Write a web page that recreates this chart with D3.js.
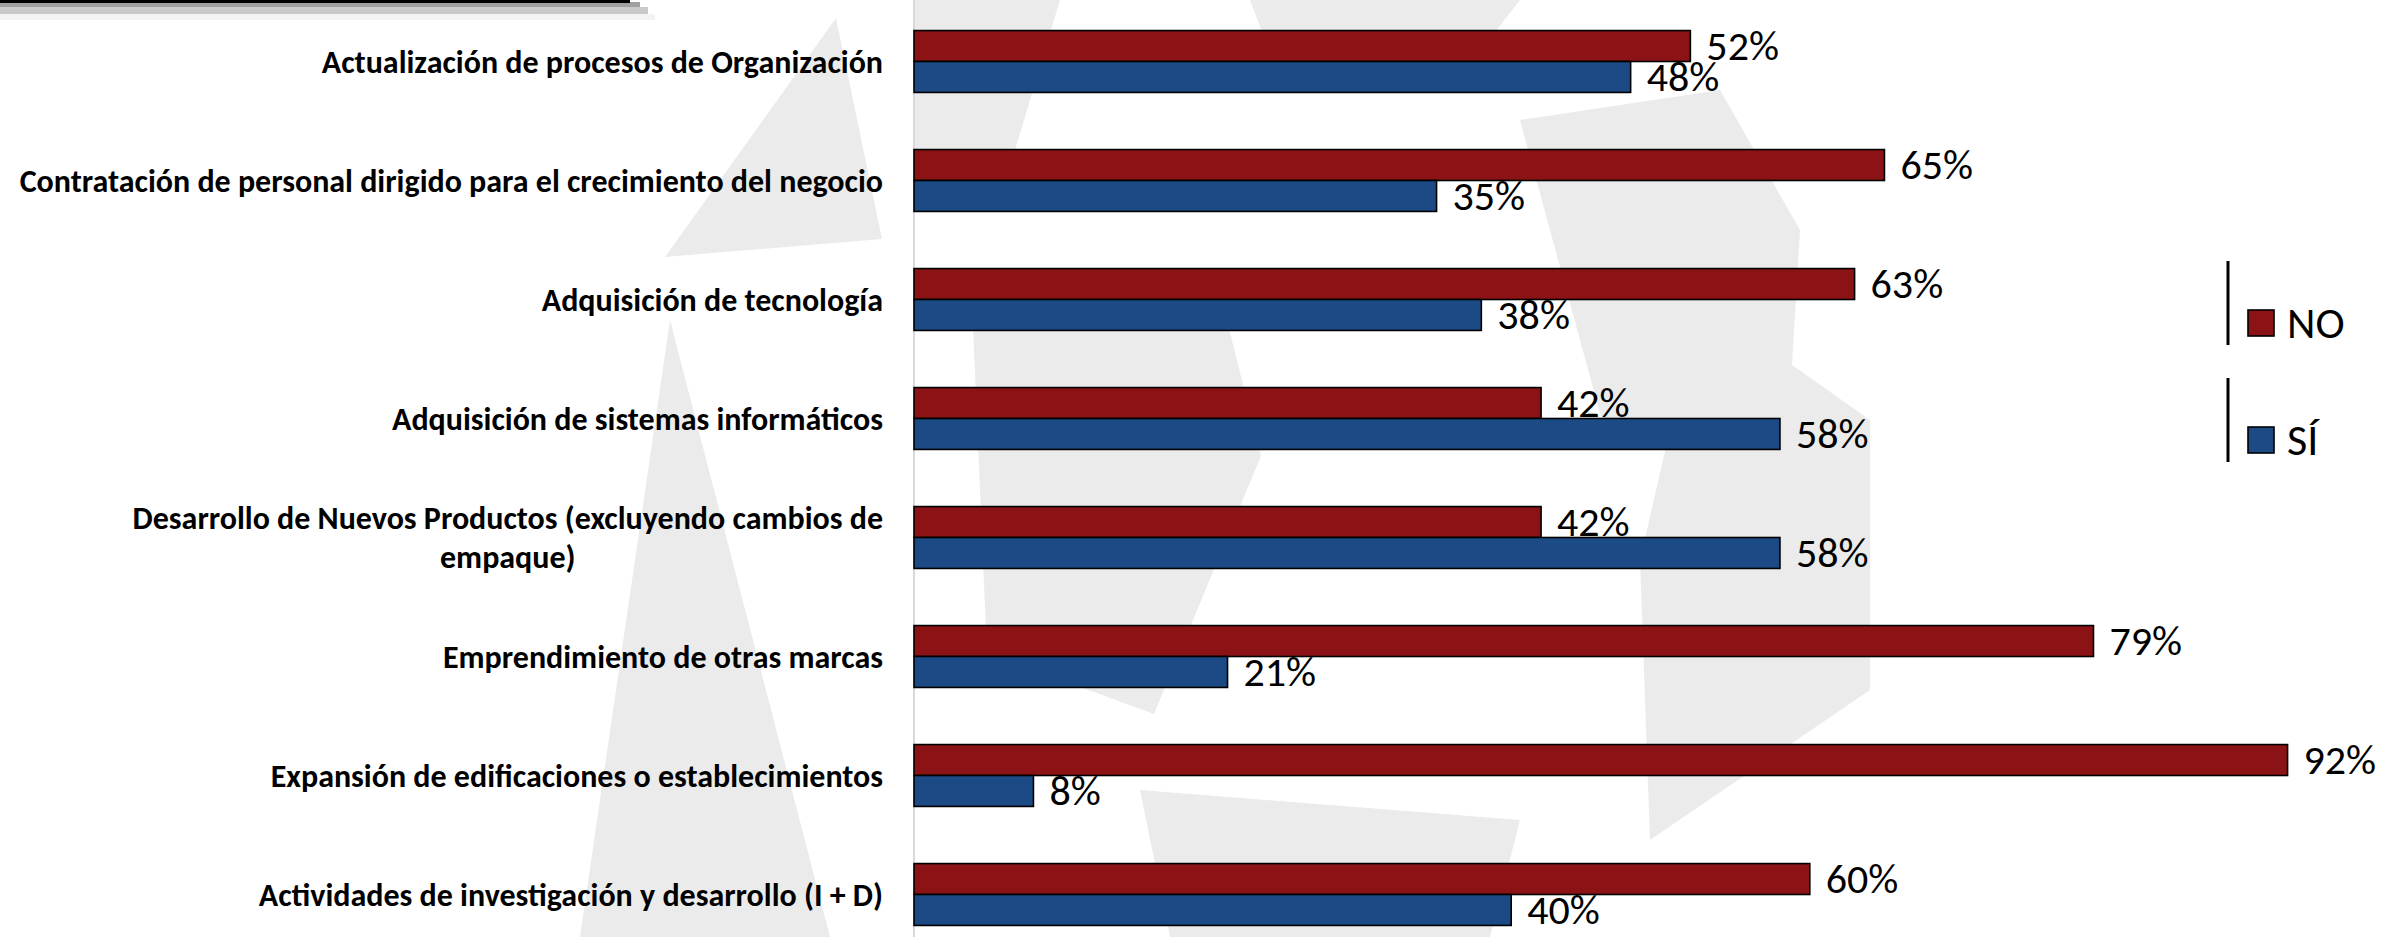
<!DOCTYPE html>
<html>
<head>
<meta charset="utf-8">
<script src="https://cdn.jsdelivr.net/npm/d3@7"></script>
<style>
  body { margin: 0; background: #fff; }
  svg { display: block; }
</style>
</head>
<body>
<svg id="chart" width="2382" height="937"></svg>
<script>
// datos
var categories = [
    "Actualización de procesos de Organización",
    "Contratación de personal dirigido para el crecimiento del negocio",
    "Adquisición de tecnología",
    "Adquisición de sistemas informáticos",
    "Desarrollo de Nuevos Productos (excluyendo cambios de\nempaque)",
    "Emprendimiento de otras marcas",
    "Expansión de edificaciones o establecimientos",
    "Actividades de investigación y desarrollo (I + D)"
];
var seriesNames = ["NO", "SÍ"];
var valuesNo = [0.52, 0.65, 0.63, 0.42, 0.42, 0.79, 0.92, 0.60];
var valuesSi = [0.48, 0.35, 0.38, 0.58, 0.58, 0.21, 0.08, 0.40];
var seriesColors = ["#8b1315", "#1b4a85"];

var svg = d3.select("#chart"),
    width = 2382,
    height = 937;

svg.append("rect").attr("width", width).attr("height", height).attr("fill", "#fff");

// marca de agua del fondo (formas gris claro)
var watermark = [
    [[670, 320], [830, 937], [580, 937]],
    [[836, 18], [882, 239], [665, 257]],
    [[915, 0], [1060, 0], [1000, 200], [915, 210]],
    [[972, 304], [1215, 273], [1261, 456], [1154, 714], [987, 653]],
    [[1520, 120], [1720, 90], [1800, 230], [1790, 400], [1610, 450]],
    [[1700, 300], [1870, 420], [1870, 690], [1650, 840], [1640, 560]],
    [[1140, 790], [1520, 820], [1490, 937], [1170, 937]],
    [[1250, 0], [1520, 0], [1450, 90], [1280, 80]]
];
svg.append("g").selectAll("polygon")
   .data(watermark)
   .enter().append("polygon")
   .attr("points", function(d) { return d.map(function(p) { return p.join(","); }).join(" "); })
   .attr("fill", "#ebebeb");

// banda superior izquierda (borde del titulo)
svg.append("rect").attr("x", 0).attr("y", 14).attr("width", 655).attr("height", 6).attr("fill", "#f3f3f3");
svg.append("rect").attr("x", 0).attr("y", 7).attr("width", 648).attr("height", 7).attr("fill", "#c9c9c9");
svg.append("rect").attr("x", 0).attr("y", 2).attr("width", 640).attr("height", 5).attr("fill", "#a0a0a0");
svg.append("rect").attr("x", 0).attr("y", 0).attr("width", 630).attr("height", 3).attr("fill", "#000");

// escalas
var x = d3.scaleLinear().domain([0, 1]).range([914, 2407]);
var y = d3.scaleBand().domain(categories).range([2, 954]).paddingInner(0.48).paddingOuter(0.24);
var ySub = d3.scaleBand().domain(seriesNames).range([0, y.bandwidth()]);

// eje vertical
svg.append("line")
   .attr("x1", x(0)).attr("x2", x(0))
   .attr("y1", 0).attr("y2", height)
   .attr("stroke", "#d9d9d9")
   .attr("stroke-width", 2);

var labelFont = "Calibri, Carlito, Lato, sans-serif";

// etiquetas de categorias
var catG = svg.append("g");
categories.forEach(function(c) {
    var lines = c.split("\n");
    var cyy = y(c) + y.bandwidth() / 2;
    var lh = 39;
    var t0 = cyy - (lines.length - 1) * lh / 2;
    var first = catG.append("text")
        .attr("x", 883)
        .attr("y", t0)
        .attr("dy", "0.35em")
        .attr("text-anchor", "end")
        .style("font-family", labelFont)
        .style("font-weight", "bold")
        .style("font-size", "32px")
        .attr("fill", "#000")
        .text(lines[0]);
    if (lines.length > 1) {
        var w = first.node().getComputedTextLength();
        for (var i = 1; i < lines.length; i++) {
            catG.append("text")
                .attr("x", 883 - w / 2)
                .attr("y", t0 + i * lh)
                .attr("dy", "0.35em")
                .attr("text-anchor", "middle")
                .style("font-family", labelFont)
                .style("font-weight", "bold")
                .style("font-size", "32px")
                .attr("fill", "#000")
                .text(lines[i]);
        }
    }
});

// barras y valores, serie por serie
var allValues = [valuesNo, valuesSi];
seriesNames.forEach(function(s, si) {
    var g = svg.append("g");
    var data = categories.map(function(c, i) { return { cat: c, v: allValues[si][i] }; });
    g.selectAll("rect")
     .data(data)
     .enter().append("rect")
     .attr("x", x(0))
     .attr("y", function(d) { return y(d.cat) + ySub(s); })
     .attr("width", function(d) { return x(d.v) - x(0); })
     .attr("height", ySub.bandwidth())
     .attr("fill", seriesColors[si])
     .attr("stroke", "#000")
     .attr("stroke-width", 1.6);
    g.selectAll("text")
     .data(data)
     .enter().append("text")
     .attr("x", function(d) { return x(d.v) + 16; })
     .attr("y", function(d) { return y(d.cat) + ySub(s) + ySub.bandwidth() / 2; })
     .attr("dy", "0.34em")
     .style("font-family", labelFont)
     .style("font-size", "42px")
     .attr("fill", "#000")
     .text(function(d) { return Math.round(d.v * 100) + "%"; });
});

// leyenda
var legend = svg.append("g");
seriesNames.forEach(function(s, i) {
    var ly = 303 + i * 117;
    legend.append("line")
          .attr("x1", 2228).attr("x2", 2228)
          .attr("y1", ly - 42).attr("y2", ly + 42)
          .attr("stroke", "#000").attr("stroke-width", 3);
    legend.append("rect")
          .attr("x", 2248).attr("y", ly + 7)
          .attr("width", 26).attr("height", 26)
          .attr("fill", seriesColors[i])
          .attr("stroke", "#000").attr("stroke-width", 1.6);
    legend.append("text")
          .attr("x", 2287).attr("y", ly + 20)
          .attr("dy", "0.35em")
          .style("font-family", labelFont)
          .style("font-size", "44px")
          .attr("fill", "#000")
          .text(s);
});
</script>
</body>
</html>
